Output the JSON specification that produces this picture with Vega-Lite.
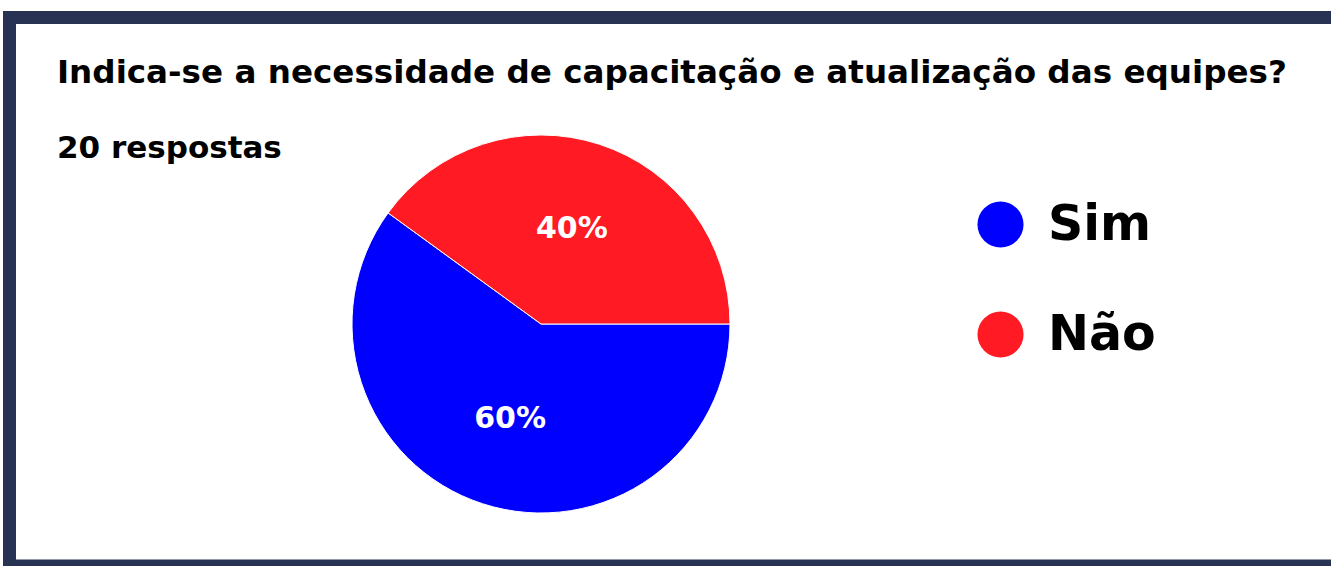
{
  "$schema": "https://vega.github.io/schema/vega-lite/v6.json",
  "autosize": {"type": "none"},
  "width": 1321.5,
  "height": 548.5,
  "padding": {"left": 9.5, "top": 17.5, "right": 0, "bottom": 0},
  "background": "white",
  "view": {"stroke": "#283354", "strokeWidth": 13, "strokeDash": [1321.5, 548.5, 1900], "fill": "white"},
  "config": {
    "font": "DejaVu Sans"
  },
  "title": {
    "text": "Indica-se a necessidade de capacitação e atualização das equipes?",
    "subtitle": "20 respostas",
    "anchor": "start",
    "frame": "group",
    "orient": "top",
    "offset": -80,
    "dx": 47.5,
    "dy": 66,
    "fontSize": 32.6,
    "fontWeight": "bold",
    "color": "black",
    "font": "DejaVu Sans",
    "subtitleFont": "DejaVu Sans",
    "subtitleFontSize": 31,
    "subtitleFontWeight": "bold",
    "subtitleColor": "black",
    "subtitlePadding": 44
  },
  "data": {
    "values": [
      {"resposta": "Sim", "pct": 60, "label": "60%"},
      {"resposta": "Não", "pct": 40, "label": "40%"}
    ]
  },
  "encoding": {
    "theta": {"field": "pct", "type": "quantitative", "stack": true, "scale": {"range": [1.5708, 7.854]}},
    "order": {"field": "pct", "type": "quantitative", "sort": "descending"},
    "color": {
      "field": "resposta",
      "type": "nominal",
      "scale": {"domain": ["Sim", "Não"], "range": ["#0000FF", "#FF1A24"]},
      "legend": {
        "orient": "none",
        "legendX": 966.5,
        "legendY": 182.5,
        "title": null,
        "symbolType": "circle",
        "symbolSize": 2124,
        "symbolOpacity": 1,
        "symbolStrokeWidth": 0,
        "labelFontSize": 49,
        "labelFont": "DejaVu Sans",
        "labelFontWeight": "bold",
        "labelColor": "black",
        "labelOffset": 23,
        "rowPadding": 60,
        "padding": 0
      }
    }
  },
  "layer": [
    {"mark": {"type": "arc", "outerRadius": 189, "x": 531.5, "y": 306.5, "stroke": "white", "strokeWidth": 1}},
    {
      "mark": {"type": "text", "radius": 100, "x": 531.5, "y": 306.5, "fontSize": 30, "fontWeight": "bold", "font": "DejaVu Sans", "fill": "white"},
      "encoding": {"text": {"field": "label", "type": "nominal"}}
    }
  ]
}
